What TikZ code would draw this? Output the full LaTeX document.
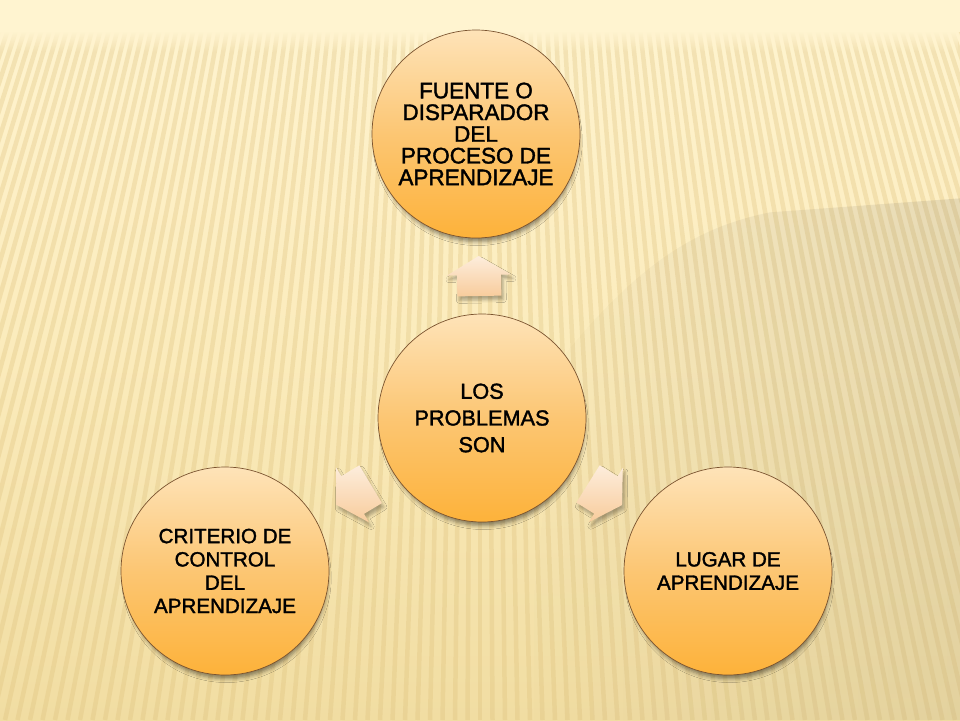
\documentclass[tikz,border=0pt]{standalone}
\usepackage{fontspec}
\setmainfont[FakeBold=1.6]{Liberation Sans}
\usetikzlibrary{calc,shadows.blur,fadings}
\definecolor{bgtop}{HTML}{FFF4D0}
\definecolor{bgmid}{HTML}{FBEBBB}
\definecolor{bgbot}{HTML}{F1DDA2}
\definecolor{stripe}{HTML}{DCBE78}
\definecolor{shade}{HTML}{C9A650}
\definecolor{circtop}{HTML}{FEE3B8}
\definecolor{circmid}{HTML}{FCC673}
\definecolor{circbot}{HTML}{FDB23A}
\definecolor{circedge}{HTML}{7B5430}
\definecolor{arrtop}{HTML}{FDEDDC}
\definecolor{arrbot}{HTML}{F8CC9C}
\begin{document}
\begin{tikzpicture}[x=1pt,y=-1pt,
  bubble/.style={circle, minimum size=208pt, inner sep=0pt, draw=circedge,
    line width=0.7pt, top color=circtop, bottom color=circbot, middle color=circmid,
    blur shadow={shadow xshift=1.5pt, shadow yshift=-7pt, shadow blur radius=4pt, shadow scale=0.97, shadow opacity=45},
    align=center, text=black},
  toptext/.style={font=\fontsize{22.5}{21.7}\selectfont},
  midtext/.style={font=\fontsize{21.7}{26.7}\selectfont},
  sidetext/.style={font=\fontsize{20.6}{23.3}\selectfont},
  arrowfill/.style={top color=arrtop, bottom color=arrbot,
    blur shadow={shadow xshift=2pt, shadow yshift=-4pt, shadow blur radius=3pt, shadow opacity=30}},
  blockarrow/.pic={\path[arrowfill] (0,-20) -- (32,-1) -- (22,-1) -- (22,20) -- (-22,20) -- (-22,-1) -- (-32,-1) -- cycle;}
]
\useasboundingbox (0,0) rectangle (960,720);
% background
\fill[top color=bgtop, bottom color=bgbot, middle color=bgmid] (0,0) rectangle (960,720);
\begin{scope}
  \clip (0,30) rectangle (960,720);
  \foreach \k in {-64,...,64} {
    \draw[stripe, opacity=0.30, line width=4.5pt] (480,-1400) -- ({480+\k*12.5},720);
  }
\end{scope}
\fill[shade, opacity=0.06, path fading=west] (560,360) .. controls (640,260) and (700,226) .. (770,212) -- (960,198) -- (960,720) -- (520,720) -- cycle;
\fill[bgtop] (0,0) rectangle (960,32);
\fill[bgtop, path fading=south] (0,31) rectangle (960,52);
% nodes
\node[bubble, toptext] (src) at (476,134) {FUENTE O\\DISPARADOR\\DEL\\PROCESO DE\\APRENDIZAJE};
\node[bubble, midtext] (core) at (482,418) {LOS\\PROBLEMAS\\SON};
\node[bubble, sidetext] (crit) at (225,571) {CRITERIO DE\\CONTROL\\DEL\\APRENDIZAJE};
\node[bubble, sidetext] (place) at (728,571) {LUGAR DE\\APRENDIZAJE};
% block arrows from the core to each circle
\path ($(core.center)!0.5!(src.center)$) pic[rotate=1] {blockarrow};
\path ($(core.center)!0.5!(crit.center)$) pic[rotate=121] {blockarrow};
\path ($(core.center)!0.5!(place.center)$) pic[rotate=-122] {blockarrow};
\end{tikzpicture}
\end{document}
